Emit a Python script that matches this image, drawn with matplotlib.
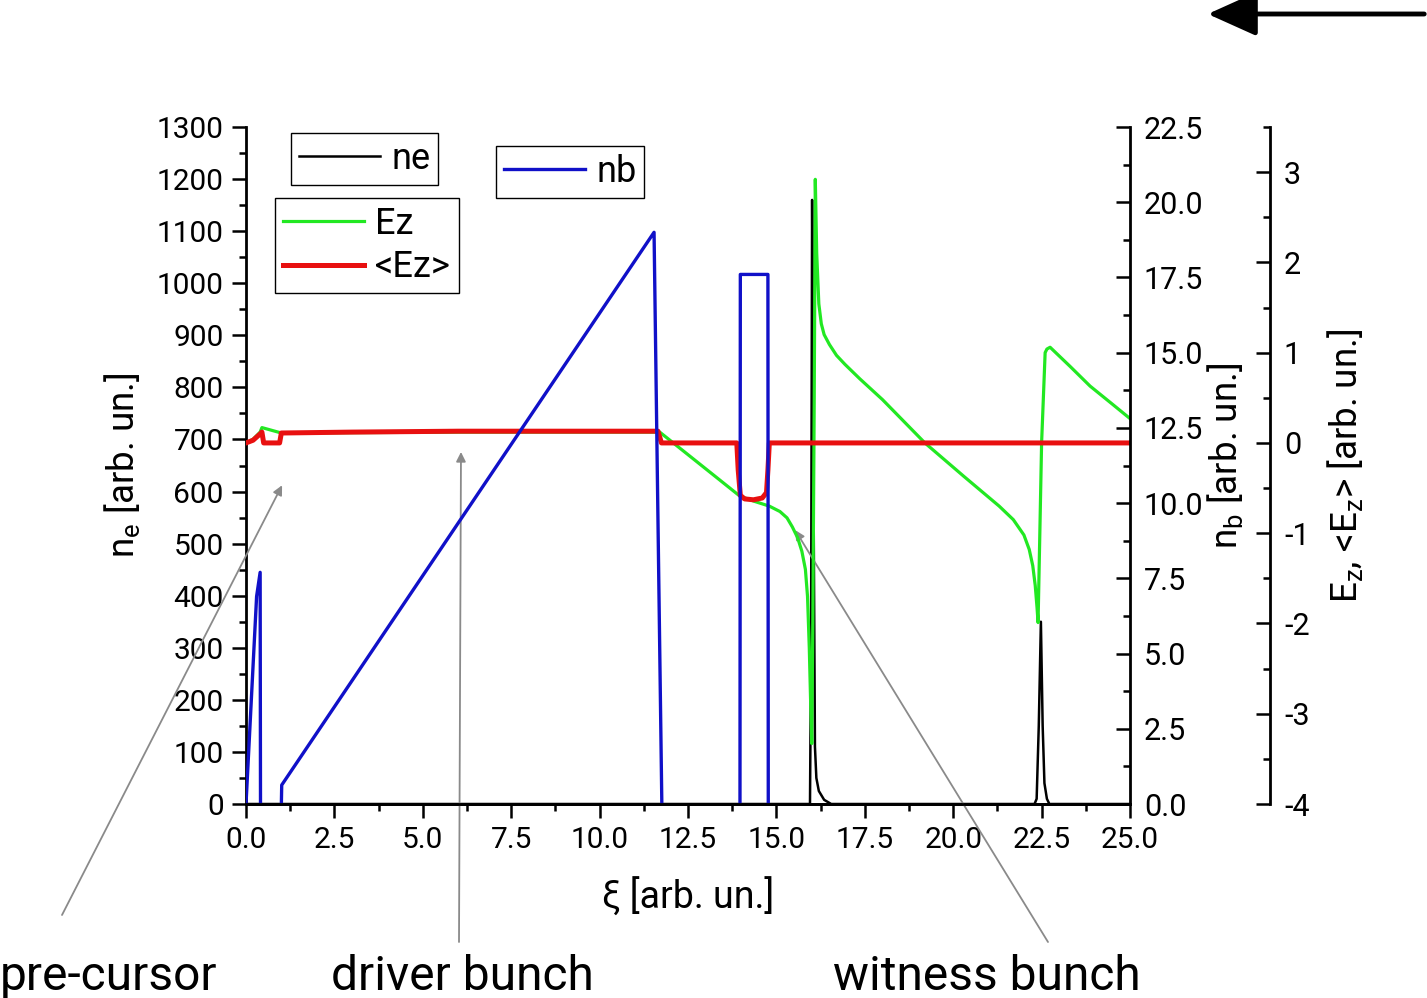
import numpy as np
import matplotlib.pyplot as plt
from matplotlib.patches import FancyArrowPatch
from matplotlib.ticker import MultipleLocator, FormatStrFormatter

plt.rcParams['font.family'] = ['Roboto', 'DejaVu Sans']
plt.rcParams['mathtext.fontset'] = 'custom'
plt.rcParams['mathtext.rm'] = 'Roboto'
plt.rcParams['mathtext.it'] = 'Roboto:italic'
plt.rcParams['axes.unicode_minus'] = False

# plasma electron density (left axis)
xi_ne = [0.0, 15.95, 15.98, 16.01, 16.05, 16.09, 16.13, 16.2, 16.35, 16.55,
         22.3, 22.36, 22.42, 22.48, 22.53, 22.58, 22.65, 22.72, 25.0]
ne = [0, 0, 300, 1160, 600, 110, 50, 25, 8, 0,
      0, 10, 150, 350, 150, 40, 10, 0, 0]

# beam density: pre-cursor, driver, witness (right axis); NaN splits the bunches
xi_nb = [0.0, 0.3, 0.4, 0.41, np.nan, 1.0, 1.01, 11.54, 11.76, np.nan,
         13.97, 13.98, 14.76, 14.77]
nb = [0.0, 6.9, 7.7, 0.0, np.nan, 0.0, 0.63, 19.0, 0.0, np.nan,
      0.0, 17.6, 17.6, 0.0]

# longitudinal field Ez (outer right axis)
xi_ez = [0.0, 0.2, 0.4, 0.45, 1.0, 6.0, 11.7, 12.5, 13.3, 13.97, 14.4, 14.8,
         15.1, 15.3, 15.45, 15.6, 15.72, 15.82, 15.88, 15.93, 15.97, 16.0,
         16.03, 16.07, 16.1, 16.14, 16.2, 16.27, 16.35, 16.5, 16.7, 16.94,
         17.36, 18.0, 19.2, 20.3, 21.3, 21.7, 22.0, 22.15, 22.25, 22.32,
         22.37, 22.4, 22.45, 22.5, 22.6, 22.65, 22.74, 23.3, 23.87, 24.5, 25.0]
ez = [0.0, 0.04, 0.12, 0.17, 0.11, 0.12, 0.12, -0.13, -0.38, -0.59, -0.65, -0.70,
      -0.76, -0.83, -0.93, -1.05, -1.2, -1.4, -1.7, -2.27, -2.9, -3.33,
      -2.0, 0.5, 2.92, 2.1, 1.54, 1.32, 1.2, 1.09, 0.97, 0.87,
      0.71, 0.48, 0.0, -0.37, -0.70, -0.85, -1.02, -1.18, -1.36, -1.58,
      -1.82, -1.99, -1.0, 0.0, 1.0, 1.04, 1.06, 0.85, 0.63, 0.43, 0.27]

# averaged field <Ez>
xi_ez_avg = [0.0, 0.2, 0.4, 0.45, 0.5, 0.95, 1.0, 3.0, 6.0, 11.65, 11.75,
             13.88, 13.92, 13.98, 14.1, 14.35, 14.6, 14.72, 14.76, 14.8, 25.0]
ez_avg = [0.0, 0.03, 0.1, 0.12, 0.0, 0.0, 0.11, 0.12, 0.13, 0.13, 0.0,
          0.0, -0.3, -0.58, -0.62, -0.63, -0.61, -0.55, -0.3, 0.0, 0.0]

fig = plt.figure(figsize=(14.27, 9.98), dpi=100)
ax = fig.add_axes([246 / 1427, 1 - 804 / 998, 884 / 1427, 677 / 998])
ax_ez = ax.twinx()
ax_nb = ax.twinx()

l_ne, = ax.plot(xi_ne, ne, color='black', lw=1.8, label='ne')
l_ez, = ax_ez.plot(xi_ez, ez, color='#22e822', lw=2.3, label='Ez')
l_avg, = ax_ez.plot(xi_ez_avg, ez_avg, color='#e81010', lw=3.6, label='<Ez>')
l_nb, = ax_nb.plot(xi_nb, nb, color='#1010c8', lw=2.4, label='nb')

ax.set_xlim(0, 25)
ax.set_ylim(0, 1300)
ax_nb.set_ylim(0, 22.5)
ax_ez.set_ylim(-4, 3.5)

for a in (ax, ax_ez, ax_nb):
    a.spines['top'].set_visible(False)
    for s in a.spines.values():
        s.set_linewidth(2)
ax.spines['right'].set_visible(False)
ax_ez.spines['right'].set_position(('axes', 1.1584))
ax_nb.spines['left'].set_visible(False)
ax_ez.spines['left'].set_visible(False)
ax_ez.spines['bottom'].set_visible(False)

ax.xaxis.set_major_locator(MultipleLocator(2.5))
ax.xaxis.set_minor_locator(MultipleLocator(1.25))
ax.xaxis.set_major_formatter(FormatStrFormatter('%.1f'))
ax.yaxis.set_major_locator(MultipleLocator(100))
ax.yaxis.set_minor_locator(MultipleLocator(50))
ax_nb.yaxis.set_major_locator(MultipleLocator(2.5))
ax_nb.yaxis.set_minor_locator(MultipleLocator(1.25))
ax_nb.yaxis.set_major_formatter(FormatStrFormatter('%.1f'))
ax_ez.yaxis.set_major_locator(MultipleLocator(1))
ax_ez.yaxis.set_minor_locator(MultipleLocator(0.5))

ax.tick_params(which='major', direction='out', length=10, width=1.8, labelsize=21.5, pad=6)
ax.tick_params(which='minor', direction='out', length=5, width=1.8)
ax.tick_params(axis='y', right=False)
for a in (ax_nb, ax_ez):
    a.tick_params(which='major', direction='in', length=10, width=1.8, labelsize=22, pad=10)
    a.tick_params(which='minor', direction='in', length=5, width=1.8)

ax.set_xlabel('ξ [arb. un.]', fontsize=27, va='center')
ax.xaxis.set_label_coords(0.5, -0.137)
ax.set_ylabel(r'n$_\mathrm{e}$ [arb. un.]', fontsize=26.5, va='center', ha='center')
ax.yaxis.set_label_coords(-0.140, 0.50)
ax_nb.set_ylabel(r'n$_\mathrm{b}$ [arb. un.]', fontsize=26.5, va='center', ha='center')
ax_nb.yaxis.set_label_coords(1.1075, 0.514)
ax_ez.set_ylabel(r'E$_\mathrm{z}$, <E$_\mathrm{z}$> [arb. un.]', fontsize=26.5, va='center', ha='center')
ax_ez.yaxis.set_label_coords(1.243, 0.50)

# three separate legend boxes
leg_kw = dict(loc='upper left', bbox_transform=fig.transFigure, fontsize=26,
              frameon=True, fancybox=False, shadow=False, framealpha=1,
              edgecolor='black', handlelength=2.25, handletextpad=0.3,
              borderpad=0.22, labelspacing=0.2, borderaxespad=0)
leg1 = ax_nb.legend([l_ne], ['ne'], bbox_to_anchor=(291 / 1427, 1 - 133 / 998), **leg_kw)
ax_nb.add_artist(leg1)
leg2 = ax_nb.legend([l_nb], ['nb'], bbox_to_anchor=(496 / 1427, 1 - 146 / 998), **leg_kw)
ax_nb.add_artist(leg2)
leg3 = ax_nb.legend([l_ez, l_avg], ['Ez', '<Ez>'], bbox_to_anchor=(275 / 1427, 1 - 198 / 998), **leg_kw)
for lg in (leg1, leg2, leg3):
    lg.get_frame().set_linewidth(1.0)

# bunch annotations
arrow_kw = dict(arrowstyle='-|>', color='#8a8a8a', lw=1.3, mutation_scale=14, shrinkA=0, shrinkB=0)
ax.annotate('', xy=(1.02, 612), xycoords='data', xytext=(62, 998 - 915),
            textcoords='figure pixels', arrowprops=arrow_kw)
ax.annotate('', xy=(6.08, 676), xycoords='data', xytext=(459, 998 - 942),
            textcoords='figure pixels', arrowprops=arrow_kw)
ax.annotate('', xy=(15.53, 526), xycoords='data', xytext=(1048, 998 - 942),
            textcoords='figure pixels', arrowprops=arrow_kw)
fig.text(0.0, 8 / 998, 'pre-cursor', fontsize=34.5, ha='left', va='baseline')
fig.text(462 / 1427, 8 / 998, 'driver bunch', fontsize=34.5, ha='center', va='baseline')
fig.text(987 / 1427, 8 / 998, 'witness bunch', fontsize=34.5, ha='center', va='baseline')

# propagation direction
fig.patches.append(FancyArrowPatch(
    (1427, 984), (1205, 984), transform=None, arrowstyle='-|>,head_length=1.0,head_width=0.45',
    mutation_scale=30, lw=3.5, color='black'))

fig.savefig('out.png', dpi=100)
